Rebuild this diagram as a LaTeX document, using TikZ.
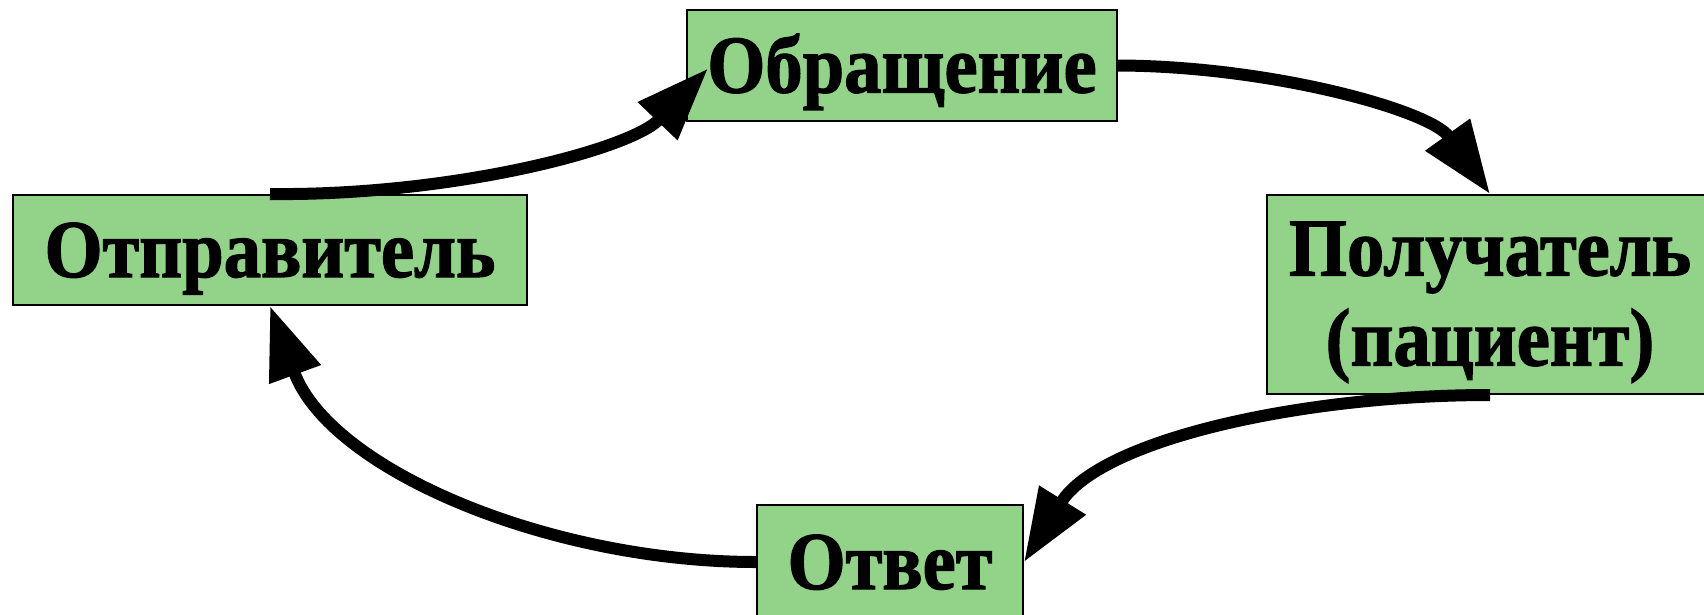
\documentclass[tikz,border=0pt]{standalone}
\usepackage{fontspec}
\setmainfont{Liberation Serif}
\newfontfamily\boxfont[FakeStretch=0.91,BoldFeatures={FakeBold=1.5}]{Liberation Serif}
\usetikzlibrary{arrows.meta}
\definecolor{boxgreen}{RGB}{146,211,137}
\begin{document}
\begin{tikzpicture}[x=1pt,y=-1pt,
  box/.style={draw=black,line width=2pt,fill=boxgreen,inner sep=0pt,
    font=\fontsize{82}{90}\boxfont\bfseries,align=center},
  conn/.style={line width=12pt,-{Triangle[length=73pt,width=52pt]}}]
\useasboundingbox (0,0) rectangle (1704,614);
\node[box,minimum width=514pt,minimum height=110pt,text height=54pt,text depth=0pt] (snd) at (270,250) {Отправитель};
\node[box,minimum width=430pt,minimum height=111pt,text height=54pt,text depth=0pt] (req) at (902,65.5) {Обращение};
\node[box,minimum width=446pt,minimum height=199pt,text height=142pt,text depth=0pt] (rcv) at (1490,294.5) {Получатель\\(пациент)};
\node[box,minimum width=266pt,minimum height=114pt,text height=54pt,text depth=0pt] (ans) at (890,562) {Ответ};
\coordinate (reqin) at ([xshift=22pt,yshift=-3pt]req.west);
\draw[conn] (snd.north) .. controls (450,196) and (630,150) .. (reqin);
\draw[conn] (req.east) .. controls (1270,66) and (1430,110) .. (rcv.north);
\draw[conn] (rcv.south) .. controls (1300,395) and (1100,440) .. (ans.east);
\draw[conn] (ans.west) .. controls (550,562) and (330,470) .. (snd.south);
\end{tikzpicture}
\end{document}
